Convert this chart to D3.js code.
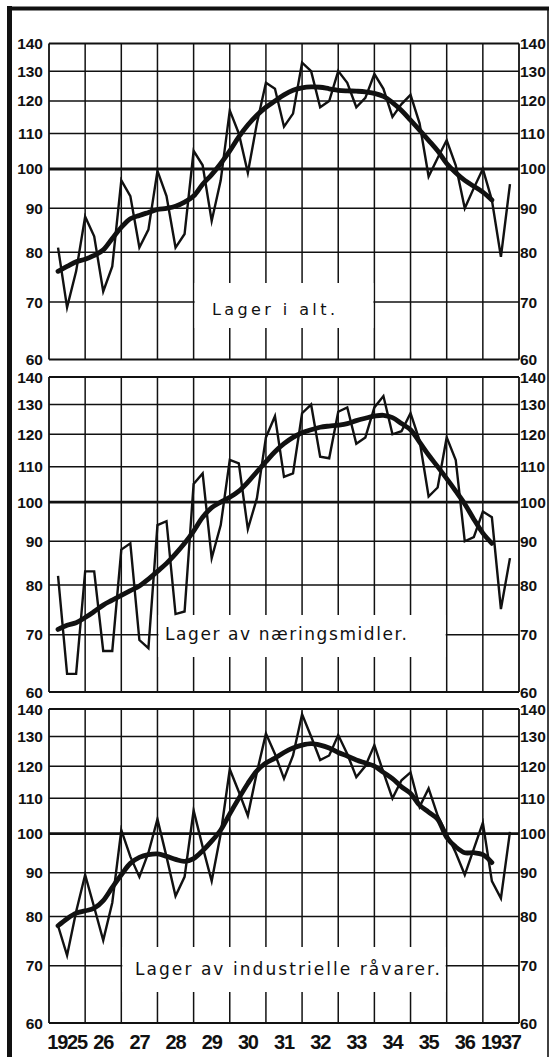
<!DOCTYPE html>
<html>
<head>
<meta charset="utf-8">
<script src="https://cdn.jsdelivr.net/npm/d3@7"></script>
<style>
  html, body { margin: 0; padding: 0; background: #fff; }
  svg { display: block; }
</style>
</head>
<body>
<script>
// ---------- data ----------
const yearTicks = [1925, 1926, 1927, 1928, 1929, 1930, 1931, 1932, 1933, 1934, 1935, 1936, 1937];
const yearLabels = ["1925", "26", "27", "28", "29", "30", "31", "32", "33", "34", "35", "36", "1937"];
const yTicks = [60, 70, 80, 90, 100, 110, 120, 130, 140];
const panelTitles = ["Lager i alt.", "Lager av næringsmidler.", "Lager av industrielle råvarer."];

// quarterly index values (end of quarter), 1925 Q1 .. 1937 Q3
const totalRaw = [81, 69, 76, 88, 83.5, 72, 77, 97, 93, 81, 85, 99.5, 93, 81, 84, 105, 101, 87, 97, 117,
  110, 99, 113, 126, 124, 112, 116, 133, 130, 118, 120, 130, 126, 118, 121, 129, 124, 115, 119, 122,
  113, 98, 103, 108, 101, 90, 95, 100, 92, 79, 96];
const totalTrend = [76, 77, 78, 78.5, 79.3, 80.5, 83, 85.5, 87.5, 88.3, 89, 89.7, 90, 90.5, 91.5, 93, 96, 98.5, 101.5, 105,
  109, 112.5, 115.5, 118, 120, 122, 123.5, 124.3, 124.6, 124.5, 124, 123.5, 123.3, 123.2, 123, 122.5, 121.5, 119.5, 117, 114,
  111, 108, 105, 101.5, 99, 97, 95.5, 94, 92];

const foodRaw = [82, 63, 63, 83, 83, 67, 67, 88, 89.5, 69, 67.5, 94, 95, 74, 74.5, 105, 108, 86, 94, 112,
  111, 93, 101, 119, 126, 107, 108, 127, 130, 113, 112.5, 127.5, 129, 117, 119, 129, 133, 120, 121, 127,
  118, 101.5, 104, 119, 112, 90, 91, 97.5, 96, 75, 86];
const foodTrend = [71, 71.8, 72.3, 73.3, 74.5, 75.8, 76.8, 77.8, 78.8, 79.8, 81.3, 83, 84.8, 87, 89.5, 92.5, 96, 98.5, 100, 101.3,
  103, 105.5, 108.5, 111.5, 114.5, 117, 119, 120.5, 121.5, 122.3, 122.7, 123, 123.5, 124.5, 125.3, 126, 126.3, 125.5, 123.5, 121.5,
  117.5, 113.5, 110, 106.5, 103, 99.5, 95.5, 92, 89.5];

const industRaw = [78, 72, 81, 89.5, 82, 75, 83, 101, 94, 89, 95, 104, 94, 84.5, 89, 106.5, 96.5, 88, 100, 119,
  112, 105, 118, 131, 124, 116, 123.5, 138, 130, 122, 123.5, 130.5, 124, 116.5, 120, 127, 118, 110, 115.5, 118,
  107.5, 113, 105, 100, 95, 89.5, 96, 103, 88, 84, 100.5];
const industTrend = [78, 79.5, 80.7, 81.2, 81.8, 83.5, 86.5, 89.5, 92.3, 93.8, 94.5, 94.7, 94.1, 93.3, 92.8, 93.5, 95.5, 98, 101, 105.5,
  110, 114.5, 118.5, 121, 122.6, 124.5, 126, 127, 127.5, 127, 126, 124.5, 123.3, 122, 121, 120, 118, 116, 113.5, 111.5,
  108, 106, 104, 99, 96.5, 95, 95, 94.5, 92.5];

// quarter-end positions as category keys (1925.25, 1925.5, ...)
const quarters = d3.range(totalRaw.length).map(i => 1925 + (i + 1) / 4);

// ---------- layout ----------
const W = 551, H = 1057;
const ink = "#111";
const svg = d3.select("body").append("svg").attr("width", W).attr("height", H);

const x = d3.scaleLinear().domain([1925, 1938]).range([49, 519]);

const panels = [
  { title: panelTitles[0], raw: totalRaw, trend: totalTrend, top: 43.5, bottom: 359.5,
    box: [1929, 1934, 283, 328], text: { x: 212, len: 123, y: 315, size: 16 } },
  { title: panelTitles[1], raw: foodRaw, trend: foodTrend, top: 377, bottom: 692,
    box: [1928, 1936, 615, 657], text: { x: 165, len: 242, y: 640, size: 17 } },
  { title: panelTitles[2], raw: industRaw, trend: industTrend, top: 709, bottom: 1023,
    box: [1927, 1936, 947, 992], text: { x: 135, len: 305, y: 975, size: 17 } }
];

// outer frame
svg.append("line").attr("x1", 9.5).attr("x2", 9.5).attr("y1", 6).attr("y2", H)
  .attr("stroke", ink).attr("stroke-width", 5);
svg.append("line").attr("x1", 7).attr("x2", 549).attr("y1", 8.5).attr("y2", 8.5)
  .attr("stroke", ink).attr("stroke-width", 4);
svg.append("line").attr("x1", 548).attr("x2", 548).attr("y1", 7).attr("y2", H)
  .attr("stroke", ink).attr("stroke-width", 1.6);

panels.forEach((p, pi) => {
  const g = svg.append("g");
  const y = d3.scaleLog().domain([60, 140]).range([p.bottom, p.top]);

  // vertical grid
  g.selectAll(".vgrid").data(d3.range(1925, 1939)).join("line")
    .attr("x1", d => x(d)).attr("x2", d => x(d))
    .attr("y1", p.top).attr("y2", p.bottom)
    .attr("stroke", ink)
    .attr("stroke-width", d => (d === 1925 || d === 1938) ? 1.8 : 1.5);

  // horizontal grid
  g.selectAll(".hgrid").data(yTicks).join("line")
    .attr("x1", x(1925)).attr("x2", x(1938))
    .attr("y1", d => y(d)).attr("y2", d => y(d))
    .attr("stroke", ink)
    .attr("stroke-width", d => d === 100 ? 2.8 : (d === 60 || d === 140 ? 1.8 : 1.5));

  // label box (gap in grid)
  g.append("rect")
    .attr("x", x(p.box[0]) + 1).attr("width", x(p.box[1]) - x(p.box[0]) - 2)
    .attr("y", p.box[2]).attr("height", p.box[3] - p.box[2])
    .attr("fill", "#fff");

  g.append("text")
    .attr("x", p.text.x).attr("y", p.text.y)
    .attr("textLength", p.text.len).attr("lengthAdjust", "spacing")
    .attr("font-family", "'DejaVu Sans', sans-serif")
    .attr("font-size", p.text.size)
    .attr("fill", ink)
    .text(p.title);

  // y labels left and right
  g.selectAll(".yl").data(yTicks).join("text")
    .attr("x", 43).attr("y", d => y(d) + 5.5)
    .attr("text-anchor", "end")
    .attr("font-family", "'Liberation Sans', Arial, sans-serif")
    .attr("font-weight", "bold").attr("font-size", 15.5)
    .attr("fill", ink)
    .text(d => d);
  g.selectAll(".yr").data(yTicks).join("text")
    .attr("x", 520).attr("y", d => y(d) + 5.5)
    .attr("text-anchor", "start")
    .attr("font-family", "'Liberation Sans', Arial, sans-serif")
    .attr("font-weight", "bold").attr("font-size", 15.5)
    .attr("fill", ink)
    .text(d => d);

  // raw quarterly series
  const lineRaw = d3.line().x((d, i) => x(quarters[i])).y(d => y(d));
  g.append("path").datum(p.raw)
    .attr("d", lineRaw)
    .attr("fill", "none").attr("stroke", ink)
    .attr("stroke-width", 2.4).attr("stroke-linejoin", "miter").attr("stroke-miterlimit", 6);

  // trend
  const lineTrend = d3.line().x((d, i) => x(quarters[i])).y(d => y(d))
    .curve(d3.curveCatmullRom.alpha(0.5));
  g.append("path").datum(p.trend)
    .attr("d", lineTrend)
    .attr("fill", "none").attr("stroke", ink)
    .attr("stroke-width", 4.8).attr("stroke-linecap", "round").attr("stroke-linejoin", "round");

  if (pi === panels.length - 1) {
    svg.append("g").selectAll("text").data(yearTicks).join("text")
      .attr("x", (d, i) => x(d + 0.5))
      .attr("y", 1049)
      .attr("text-anchor", "middle")
      .attr("font-family", "'Liberation Sans', Arial, sans-serif")
      .attr("font-weight", "bold").attr("font-size", 20)
      .attr("letter-spacing", -1.2)
      .attr("fill", ink)
      .text((d, i) => yearLabels[i]);
  }
});
</script>
</body>
</html>
